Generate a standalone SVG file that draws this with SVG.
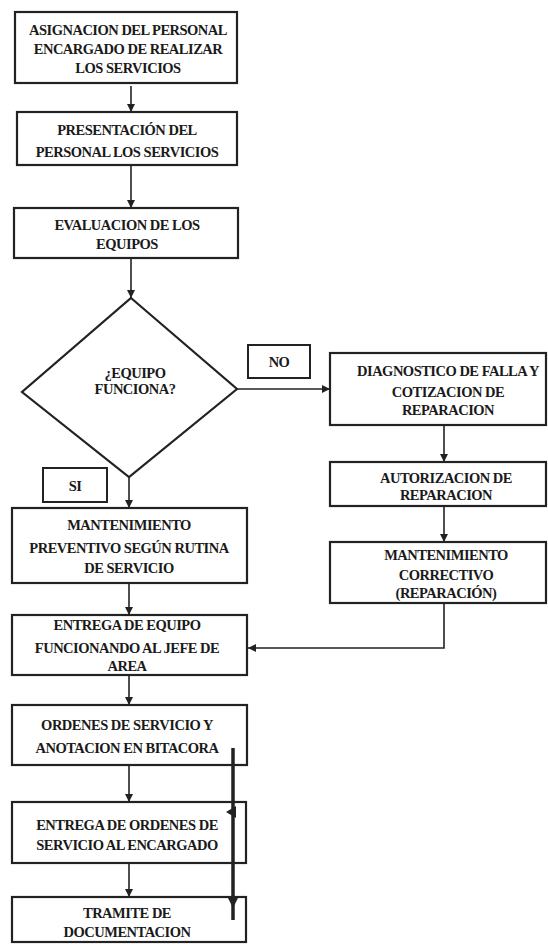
<svg xmlns="http://www.w3.org/2000/svg" width="548" height="946" viewBox="0 0 548 946">
<defs>
<marker id="ah" viewBox="0 0 10 10" refX="10" refY="5" markerWidth="8" markerHeight="8" markerUnits="userSpaceOnUse" orient="auto">
<path d="M0,0 L10,5 L0,10 z" fill="#222"/>
</marker>
</defs>
<style>
.box{fill:#fff;stroke:#222;stroke-width:2.2}
.lbl{fill:#fff;stroke:#222;stroke-width:2}
.t{font-family:"Liberation Serif","Times New Roman",serif;font-weight:bold;font-size:14.5px;fill:#1a1a1a;text-anchor:middle;letter-spacing:-0.5px}
.c{fill:none;stroke:#222;stroke-width:1.6;marker-end:url(#ah)}
</style>
<rect width="548" height="946" fill="#fff"/>
<g id="n1"><rect class="box" x="15" y="12" width="222" height="71"/>
<text class="t" x="128" y="35">ASIGNACION DEL PERSONAL</text>
<text class="t" x="128" y="54">ENCARGADO DE REALIZAR</text>
<text class="t" x="128" y="73">LOS SERVICIOS</text></g>
<g id="n2"><rect class="box" x="17" y="112" width="220" height="53"/>
<text class="t" x="127" y="135">PRESENTACIÓN DEL</text>
<text class="t" x="127" y="157">PERSONAL LOS SERVICIOS</text></g>
<g id="n3"><rect class="box" x="14" y="208" width="224" height="50"/>
<text class="t" x="127" y="230">EVALUACION DE LOS</text>
<text class="t" x="127" y="249">EQUIPOS</text></g>
<g id="n4"><path class="box" d="M131,298 L237,389 L129,477 L22,392 z"/>
<text class="t" x="135" y="378">¿EQUIPO</text>
<text class="t" x="135" y="394">FUNCIONA?</text></g>
<g id="no"><rect class="lbl" x="248" y="345" width="62" height="33"/>
<text class="t" x="279" y="367">NO</text></g>
<g id="si"><rect class="lbl" x="43" y="468" width="64" height="34"/>
<text class="t" x="75" y="491">SI</text></g>
<g id="n5"><rect class="box" x="330" y="353" width="216" height="72"/>
<text class="t" x="448" y="376">DIAGNOSTICO DE FALLA Y</text>
<text class="t" x="448" y="397">COTIZACION DE</text>
<text class="t" x="448" y="415">REPARACION</text></g>
<g id="n6"><rect class="box" x="330" y="462" width="216" height="44"/>
<text class="t" x="446" y="483">AUTORIZACION DE</text>
<text class="t" x="446" y="500">REPARACION</text></g>
<g id="n7"><rect class="box" x="330" y="542" width="216" height="61"/>
<text class="t" x="446" y="560">MANTENIMIENTO</text>
<text class="t" x="446" y="580">CORRECTIVO</text>
<text class="t" x="446" y="598">(REPARACIÓN)</text></g>
<g id="n8"><rect class="box" x="12" y="508" width="235" height="75"/>
<text class="t" x="129" y="530">MANTENIMIENTO</text>
<text class="t" x="129" y="553">PREVENTIVO SEGÚN RUTINA</text>
<text class="t" x="129" y="573">DE SERVICIO</text></g>
<g id="n9"><rect class="box" x="12" y="615" width="235" height="60"/>
<text class="t" x="127" y="630">ENTREGA DE EQUIPO</text>
<text class="t" x="127" y="653">FUNCIONANDO AL JEFE DE</text>
<text class="t" x="127" y="671">AREA</text></g>
<g id="n10"><rect class="box" x="12" y="705" width="235" height="60"/>
<text class="t" x="127" y="730">ORDENES DE SERVICIO Y</text>
<text class="t" x="127" y="753">ANOTACION EN BITACORA</text></g>
<g id="n11"><rect class="box" x="12" y="802" width="234" height="61"/>
<text class="t" x="127" y="830">ENTREGA DE ORDENES DE</text>
<text class="t" x="127" y="850">SERVICIO AL ENCARGADO</text></g>
<g id="n12"><rect class="box" x="12" y="897" width="234" height="45"/>
<text class="t" x="127" y="918">TRAMITE DE</text>
<text class="t" x="127" y="937">DOCUMENTACION</text></g>
<g id="connectors">
<path class="c" d="M131,86 V112"/>
<path class="c" d="M131,165 V208"/>
<path class="c" d="M131,258 V298"/>
<path class="c" d="M237,389 H330"/>
<path class="c" d="M129,477 V508"/>
<path class="c" d="M444,425 V462"/>
<path class="c" d="M444,506 V542"/>
<path class="c" d="M444,603 V648 H248"/>
<path class="c" d="M129,583 V615"/>
<path class="c" d="M129,675 V705"/>
<path class="c" d="M129,765 V802"/>
<path class="c" d="M129,863 V897"/>
<path d="M233,748 V920" fill="none" stroke="#222" stroke-width="3.5"/>
<path d="M227,896 L239,896 L233,908 z" fill="#222"/>
<path d="M226,812 L236,806 L236,818 z" fill="#222"/>
</g>
</svg>
